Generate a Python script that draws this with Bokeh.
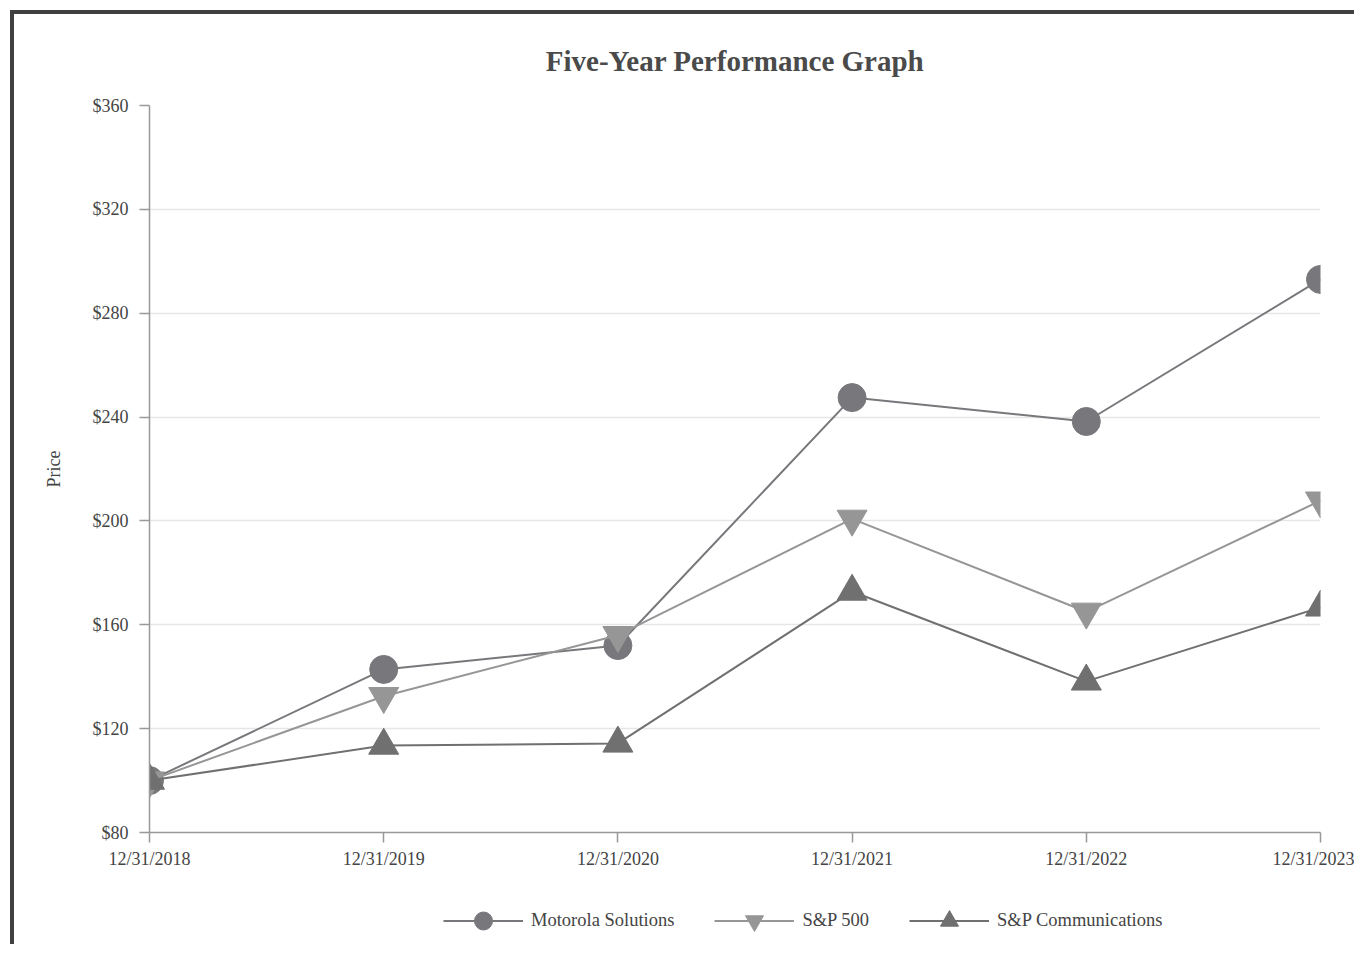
from bokeh.plotting import figure
from bokeh.layouts import column
from bokeh.models import FixedTicker, NumeralTickFormatter, Legend, LegendItem, Range1d
from bokeh.embed import file_html
from bokeh.resources import INLINE

years = [2018, 2019, 2020, 2021, 2022, 2023]
year_labels = ["12/31/2018", "12/31/2019", "12/31/2020", "12/31/2021", "12/31/2022", "12/31/2023"]
motorola = [100, 142.8, 152.0, 247.5, 238.3, 293.0]
sp500 = [100, 132.5, 156.0, 200.8, 165.0, 207.8]
sp_comm = [100, 113.5, 114.3, 172.8, 138.2, 166.7]
y_ticks = [80, 120, 160, 200, 240, 280, 320, 360]

FONT = "Liberation Serif"
TXT = "#444444"

p = figure(frame_width=1171, frame_height=727, output_backend="svg", toolbar_location=None,
           x_range=Range1d(2018, 2023), y_range=Range1d(80, 360),
           min_border_left=135, min_border_right=34, min_border_top=0, min_border_bottom=56)

p.title.text = "Five-Year Performance Graph"
p.title.align = "center"
p.title.text_font = FONT
p.title.text_font_size = "29px"
p.title.text_font_style = "bold"
p.title.text_color = "#4a4a4a"
p.title.standoff = 57

p.outline_line_color = None
p.xgrid.grid_line_color = None
p.ygrid.grid_line_color = "#e6e6e6"
p.ygrid.grid_line_width = 1.5

p.yaxis.ticker = FixedTicker(ticks=y_ticks)
p.yaxis.formatter = NumeralTickFormatter(format="$0")
p.xaxis.ticker = FixedTicker(ticks=years)
p.xaxis.major_label_overrides = {y: l for y, l in zip(years, year_labels)}
p.yaxis.axis_label = "Price"
p.yaxis.axis_label_standoff = 26
p.yaxis.axis_label_text_font_style = "normal"

for ax in (p.xaxis, p.yaxis):
    ax.axis_line_color = "#999999"
    ax.axis_line_width = 1.5
    ax.major_tick_line_color = "#999999"
    ax.major_tick_line_width = 1.5
    ax.major_tick_out = 10
    ax.major_tick_in = 0
    ax.minor_tick_line_color = None
    ax.major_label_text_font = FONT
    ax.major_label_text_font_size = "18px"
    ax.major_label_text_color = TXT
    ax.axis_label_text_font = FONT
    ax.axis_label_text_font_size = "18px"
    ax.axis_label_text_color = TXT
p.xaxis.major_label_standoff = 6
p.yaxis.major_label_standoff = 11

series = [
    ("Motorola Solutions", motorola, "#78787c", "circle", 28),
    ("S&P 500", sp500, "#969696", "inverted_triangle", 30),
    ("S&P Communications", sp_comm, "#707070", "triangle", 30),
]
for name, vals, col, mk, sz in series:
    p.line(years, vals, line_color=col, line_width=2)
    p.scatter(years, vals, marker=mk, size=sz, fill_color=col, line_color=col)

# legend strip: same series drawn in a figure whose view range excludes them,
# so only the legend shows
lf = figure(width=1340, height=56, output_backend="svg", toolbar_location=None,
            x_range=Range1d(0, 1), y_range=Range1d(0, 1),
            x_axis_location=None, y_axis_location=None,
            min_border_left=0, min_border_right=0, min_border_top=0, min_border_bottom=0)
lf.outline_line_color = None
lf.xgrid.grid_line_color = None
lf.ygrid.grid_line_color = None
items = []
for name, vals, col, mk, sz in series:
    l = lf.line(years, vals, line_color=col, line_width=2)
    s = lf.scatter(years, vals, marker=mk, size=20, fill_color=col, line_color=col)
    items.append(LegendItem(label=name, renderers=[l, s]))
legend = Legend(items=items, orientation="horizontal", location=(294, 1),
                label_text_font=FONT, label_text_font_size="18.5px", label_text_color=TXT,
                glyph_width=80, glyph_height=45, label_standoff=8, spacing=40, padding=4,
                border_line_color=None, background_fill_alpha=0, margin=0)
lf.add_layout(legend, "center")

layout = column(p, lf, spacing=0,
                styles={"border-left": "4px solid #404040", "border-top": "4px solid #404040",
                        "margin-left": "10px", "margin-top": "10px"})

open("out.html", "w").write(file_html(layout, INLINE))
